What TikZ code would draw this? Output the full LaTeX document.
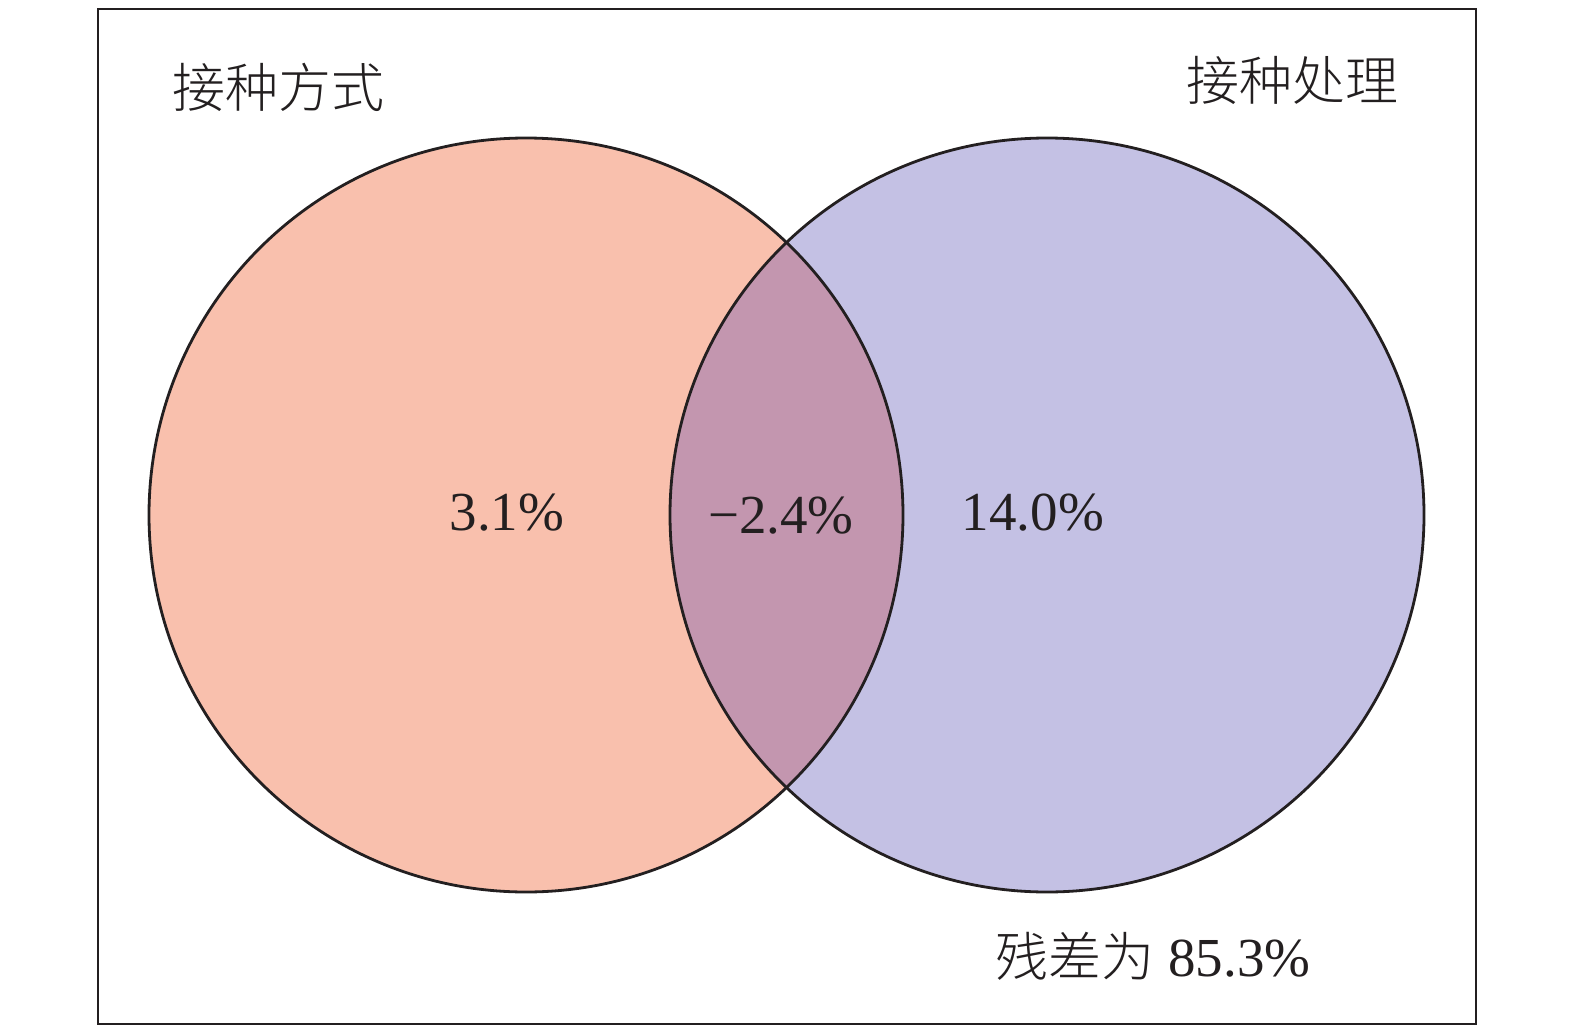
\documentclass[tikz,border=0pt]{standalone}
\usepackage{fontspec}
\setmainfont{Liberation Serif}
\newfontfamily\cjk{Noto Sans CJK SC Light}
\definecolor{leftc}{RGB}{249,192,173}
\definecolor{rightc}{RGB}{196,193,228}
\definecolor{midc}{RGB}{195,150,175}
\definecolor{inkc}{RGB}{35,31,32}
\begin{document}
\begin{tikzpicture}[x=1pt,y=-1pt,
  lbl/.style={inner sep=0pt,text=inkc,font=\fontsize{55}{60}\selectfont},
  clbl/.style={inner sep=0pt,text=inkc,font=\cjk\fontsize{53}{56}\selectfont},
  ring/.style={draw=inkc,line width=2.8pt}]
\useasboundingbox (0,0) rectangle (1575,1033);
\node[draw=inkc,line width=2.8pt,minimum width=1378pt,minimum height=1015pt,inner sep=0pt] (frame) at (787,516.5) {};
\coordinate (cl) at (526,515);
\coordinate (cr) at (1047,515);
\fill[leftc] (cl) circle (377);
\fill[rightc] (cr) circle (377);
\begin{scope}
  \clip (cl) circle (377);
  \fill[midc] (cr) circle (377);
\end{scope}
\draw[ring] (cl) circle (377);
\draw[ring] (cr) circle (377);
\node[clbl] (t1) at (278,87) {接种方式};
\node[clbl] (t2) at (1292,80) {接种处理};
\node[lbl] (a) at (507,513) {3.1\%};
\node[lbl] (b) at (781,516) {−2.4\%};
\node[lbl] (c) at (1033,513) {14.0\%};
\node[lbl] (r) at (1153,956) {{\cjk\fontsize{53}{56}\selectfont 残差为} 85.3\%};
\end{tikzpicture}
\end{document}
